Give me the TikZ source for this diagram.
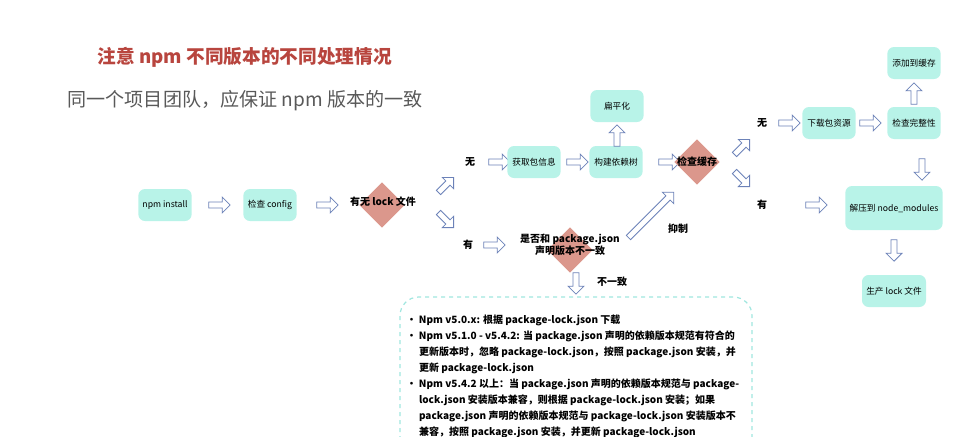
\documentclass[tikz,border=0pt]{standalone}
\usepackage{fontspec}
\setmainfont{Noto Sans CJK SC}
\usetikzlibrary{shapes.geometric,shapes.arrows,positioning}
\definecolor{mint}{HTML}{B8F3E8}
\definecolor{rose}{HTML}{DB978C}
\definecolor{arrowline}{HTML}{6C82B8}
\definecolor{titlered}{HTML}{B8453E}
\definecolor{dashcyan}{HTML}{9FE6DF}

\begin{document}
\begin{tikzpicture}[x=0.75pt,y=-0.75pt]

\tikzset{stepbox/.style={font=\fontsize{6.5}{8}\selectfont,fill=mint,rounded corners=5pt,minimum width=40pt,minimum height=24pt,inner sep=2pt},
decide/.style={shape=diamond,fill=rose,minimum size=34pt,inner sep=0pt},
blockarrow/.style={shape=single arrow,draw=arrowline,fill=white,line width=0.6pt,minimum height=16pt,minimum width=12pt,single arrow head extend=2.5pt,inner sep=1.2pt},
lbl/.style={font=\fontsize{7.5}{9}\selectfont\bfseries}}

\useasboundingbox (0,0) rectangle (967,436);

% Title
\node[anchor=west,text=titlered,font=\fontsize{14}{16}\selectfont\bfseries] (title) at (93,57) {注意 npm 不同版本的不同处理情况};
\node[anchor=west,text=black!65,font=\fontsize{14.3}{16}\selectfont] (subtitle) at (63,101) {同一个项目团队，应保证 npm 版本的一致};

% main line
\node[stepbox] (install) at (165,205) {npm install};
\node[blockarrow] (a1) at (218,205) {};
\node[stepbox] (config) at (270,205) {检查 config};
\node[blockarrow] (a2) at (326,205) {};
\node[decide] (lock) at (382,205) {};
\node[lbl] (locklbl) at (383,202) {有无 lock 文件};
\node[blockarrow,rotate=45] (a3) at (445,186) {};
\node[blockarrow,rotate=-45] (a4) at (445,219) {};

% no lock
\node[lbl] (no1) at (470,162) {无};
\node[blockarrow] (a5) at (498,162) {};
\node[stepbox] (info) at (534,162) {获取包信息};
\node[blockarrow] (a6) at (576,162) {};
\node[stepbox] (tree) at (616,162) {构建依赖树};
\node[blockarrow,rotate=90] (a7) at (617,137) {};
\node[stepbox] (flat) at (617,106) {扁平化};
\node[blockarrow] (a8) at (668,162) {};
\node[decide] (cache) at (697,162) {};
\node[lbl] (cachelbl) at (697,162) {检查缓存};
\node[blockarrow,rotate=45] (a9) at (741,148) {};
\node[blockarrow,rotate=-45] (a10) at (741,178) {};

% cache miss
\node[lbl] (no2) at (762,123) {无};
\node[blockarrow] (a11) at (788,123) {};
\node[stepbox] (download) at (829,123) {下载包资源};
\node[blockarrow] (a12) at (869,123) {};
\node[stepbox] (integrity) at (914,123) {检查完整性};
\node[blockarrow,rotate=90] (a13) at (914,95) {};
\node[stepbox] (addcache) at (914,63) {添加到缓存};
\node[blockarrow,rotate=-90] (a14) at (922,168) {};

% cache hit
\node[lbl] (yes2) at (762,205) {有};
\node[blockarrow] (a15) at (815,205) {};
\node[stepbox,minimum width=73pt,minimum height=33pt] (unzip) at (894,208) {解压到 node\_modules};
\node[blockarrow,rotate=-90] (a16) at (894,249) {};
\node[stepbox,minimum width=48pt] (lockfile) at (894,291) {生产 lock 文件};

% has lock
\node[lbl] (yes1) at (468,245) {有};
\node[blockarrow] (a17) at (493,245) {};
\node[decide] (match) at (570,250) {};
\node[lbl,align=center] (matchlbl) at (570,245) {是否和 package.json\\声明版本不一致};
\node[blockarrow,rotate=45,minimum height=48pt] (a18) at (650,216) {};
\node[lbl] (inhibit) at (678,229) {抑制};
\node[blockarrow,rotate=-90] (a19) at (576,282) {};
\node[lbl] (diff) at (612,282) {不一致};

% version notes
\draw[dashcyan,dashed,line width=0.9pt,rounded corners=14pt] (400,448) -- (400,297) -- (752,297) -- (752,448);
\node[anchor=north west,align=left,font=\fontsize{7.5}{12}\selectfont\bfseries] (notes) at (402,310) {%
\textbullet\ Npm v5.0.x: 根据 package-lock.json 下载\\
\textbullet\ Npm v5.1.0 - v5.4.2: 当 package.json 声明的依赖版本规范有符合的\\
\hphantom{\textbullet\ }更新版本时，忽略 package-lock.json，按照 package.json 安装，并\\
\hphantom{\textbullet\ }更新 package-lock.json\\
\textbullet\ Npm v5.4.2 以上：当 package.json 声明的依赖版本规范与 package-\\
\hphantom{\textbullet\ }lock.json 安装版本兼容，则根据 package-lock.json 安装；如果\\
\hphantom{\textbullet\ }package.json 声明的依赖版本规范与 package-lock.json 安装版本不\\
\hphantom{\textbullet\ }兼容，按照 package.json 安装，并更新 package-lock.json};

\end{tikzpicture}
\end{document}
